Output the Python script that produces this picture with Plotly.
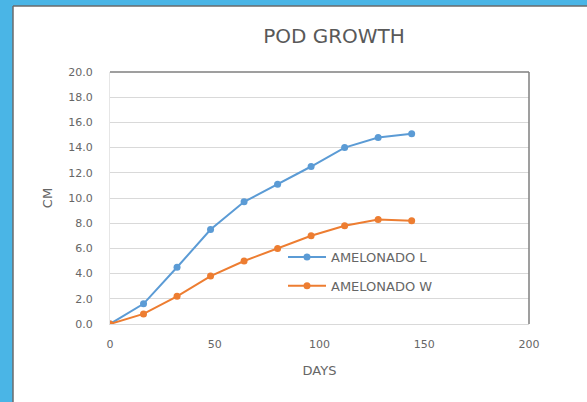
import plotly.graph_objects as go

# Pod growth measurements (cm) sampled every 16 days
days = [0, 16, 32, 48, 64, 80, 96, 112, 128, 144]
amelonado_l = [0.0, 1.6, 4.5, 7.5, 9.7, 11.1, 12.5, 14.0, 14.8, 15.1]
amelonado_w = [0.0, 0.8, 2.2, 3.8, 5.0, 6.0, 7.0, 7.8, 8.3, 8.2]

series_names = ["AMELONADO L", "AMELONADO W"]
series_colors = ["#5b9bd5", "#ed7d31"]

W, H = 587, 402
ML, MR, MT, MB = 110, 58, 72, 78
PW, PH = W - ML - MR, H - MT - MB


def px_x(p):
    return (p - ML) / PW


def px_y(p):
    return (H - MB - p) / PH


fig = go.Figure()
for i, (name, vals) in enumerate(zip(series_names, [amelonado_l, amelonado_w])):
    fig.add_trace(go.Scatter(
        x=days, y=vals, name=name, mode="lines+markers",
        line=dict(color=series_colors[i], width=2),
        marker=dict(color=series_colors[i], size=7, symbol="circle"),
        legendgroup=f"g{i}",
    ))

grey = "#666666"
font_family = "DejaVu Sans, sans-serif"
frame_shapes = [
    # blue surround
    dict(type="rect", xref="paper", yref="paper", x0=px_x(0), x1=px_x(13), y0=px_y(H), y1=px_y(0),
         fillcolor="#4ab5e6", line=dict(width=0), layer="below"),
    dict(type="rect", xref="paper", yref="paper", x0=px_x(0), x1=px_x(W), y0=px_y(6), y1=px_y(0),
         fillcolor="#4ab5e6", line=dict(width=0), layer="below"),
    # panel edge
    dict(type="line", xref="paper", yref="paper", x0=px_x(13), x1=px_x(13), y0=px_y(H), y1=px_y(6),
         line=dict(color="#6b6b6b", width=1.5)),
    dict(type="line", xref="paper", yref="paper", x0=px_x(13), x1=px_x(W), y0=px_y(6), y1=px_y(6),
         line=dict(color="#6b6b6b", width=1.5)),
    # plot border top and right
    dict(type="line", xref="paper", yref="paper", x0=0, x1=1, y0=1, y1=1,
         line=dict(color="#7f7f7f", width=1.5)),
    dict(type="line", xref="paper", yref="paper", x0=1, x1=1, y0=0, y1=1,
         line=dict(color="#7f7f7f", width=1.5)),
]

fig.update_layout(
    width=W, height=H,
    margin=dict(l=ML, r=MR, t=MT, b=MB),
    paper_bgcolor="white", plot_bgcolor="white",
    font=dict(family=font_family, color=grey, size=11),
    title=dict(text="POD GROWTH", x=px_x(334), xref="paper", xanchor="center",
               y=1 - 36 / H, yanchor="middle", font=dict(size=20, color="#595959")),
    xaxis=dict(range=[0, 200], dtick=50, showgrid=False, zeroline=False,
               showline=True, linecolor="#d9d9d9", linewidth=1,
               ticks="", ticklabelstandoff=10, tickfont=dict(size=11, color=grey),
               title=dict(text="DAYS", font=dict(size=13, color=grey), standoff=15)),
    yaxis=dict(range=[0, 20], dtick=2, tickformat=".1f", showgrid=True,
               gridcolor="#d9d9d9", gridwidth=1, zeroline=False,
               showline=True, linecolor="#e6e6e6", ticks="", ticklabelstandoff=14,
               tickfont=dict(size=11, color=grey),
               title=dict(text="CM", font=dict(size=13, color=grey), standoff=12)),
    legend=dict(x=px_x(283), y=px_y(242), xanchor="left", yanchor="top",
                bgcolor="rgba(0,0,0,0)", font=dict(size=13, color=grey),
                tracegroupgap=9, itemwidth=38),
    shapes=frame_shapes,
    showlegend=True,
)

fig.write_html("out.html")
